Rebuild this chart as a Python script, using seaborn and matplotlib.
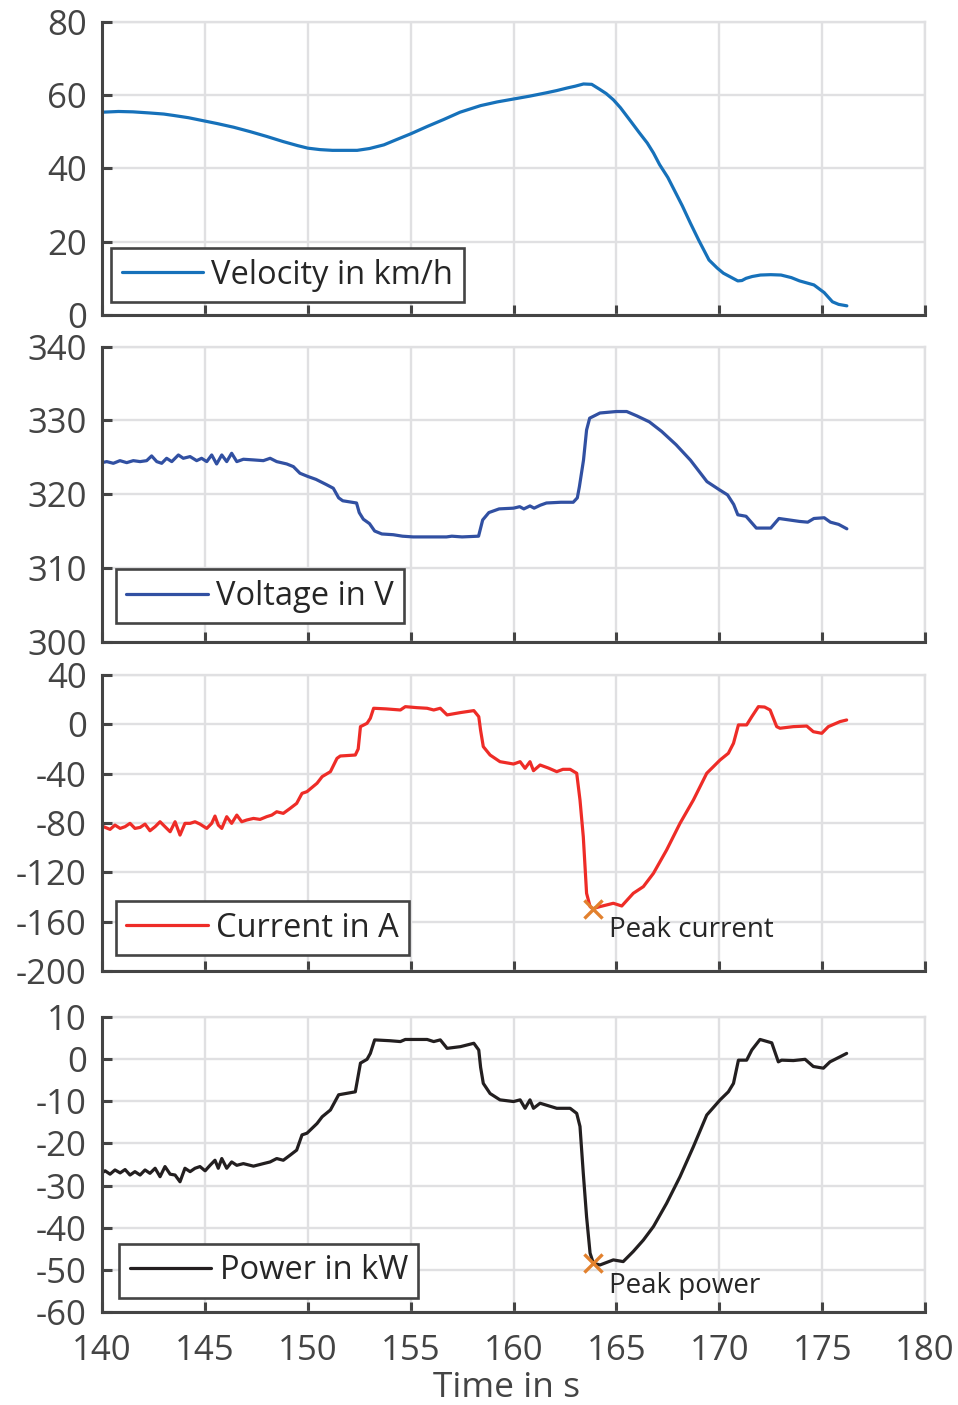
import matplotlib
matplotlib.use("Agg")
import matplotlib.pyplot as plt
import seaborn as sns
import pandas as pd

# ---------------- data ----------------
vel_t = [140.0, 140.8, 141.5, 142.3, 143.0, 143.5, 144.2, 144.9, 145.6, 146.4,
         147.2, 148.0, 148.8, 149.5, 150.0, 150.6, 151.2, 151.8, 152.4, 153.0,
         153.7, 154.3, 155.0, 155.8, 156.6, 157.4, 158.4, 159.2, 160.0, 160.8,
         161.6, 162.1, 162.6, 163.0, 163.4, 163.8, 164.2, 164.5, 164.85, 165.2,
         165.7, 166.1, 166.5, 166.8, 167.1, 167.5, 167.8, 168.2, 168.6, 169.0,
         169.5, 169.9, 170.2, 170.6, 170.9, 171.1, 171.3, 171.6, 172.0, 172.5,
         173.0, 173.5, 173.9, 174.6, 175.1, 175.5, 175.8, 176.2]
vel_v = [55.3, 55.5, 55.4, 55.1, 54.8, 54.4, 53.8, 53.0, 52.2, 51.2,
         50.0, 48.7, 47.3, 46.2, 45.5, 45.1, 44.9, 44.9, 44.9, 45.4,
         46.4, 47.8, 49.4, 51.4, 53.3, 55.3, 57.1, 58.1, 58.9, 59.7,
         60.6, 61.2, 61.9, 62.4, 63.0, 62.9, 61.5, 60.4, 58.7, 56.5,
         52.8, 49.8, 46.9, 44.2, 41.0, 37.5, 34.2, 29.8, 25.0, 20.4,
         15.0, 12.8, 11.4, 10.2, 9.3, 9.4, 10.0, 10.5, 10.9, 11.0,
         10.9, 10.2, 9.3, 8.2, 6.1, 3.6, 2.9, 2.5]

volt_t = [140.0, 140.23, 140.55, 140.87, 141.2, 141.52, 141.85, 142.17, 142.41, 142.66,
          142.9, 143.14, 143.39, 143.71, 143.95, 144.28, 144.6, 144.84, 145.09, 145.33,
          145.57, 145.82, 146.06, 146.3, 146.55, 146.87, 147.36, 147.84, 148.17, 148.49,
          148.98, 149.3, 149.62, 150.0, 150.4, 150.9, 151.24, 151.5, 151.7, 152.37,
          152.5, 152.7, 153.0, 153.25, 153.6, 154.15, 154.6, 155.12, 156.0, 156.74,
          157.0, 157.5, 158.3, 158.5, 158.8, 159.3, 160.0, 160.3, 160.5, 160.8,
          161.0, 161.3, 161.6, 162.3, 162.9, 163.1, 163.2, 163.4, 163.55, 163.7,
          164.2, 164.6, 165.0, 165.5, 166.0, 166.6, 167.2, 167.9, 168.6, 169.4,
          170.0, 170.4, 170.7, 170.9, 171.3, 171.8, 172.5, 172.9, 173.9, 174.3,
          174.6, 175.1, 175.4, 175.8, 176.2]
volt_v = [324.27, 324.41, 324.18, 324.54, 324.27, 324.54, 324.41, 324.54, 325.18, 324.41,
          324.18, 324.86, 324.41, 325.31, 324.86, 325.09, 324.54, 324.86, 324.41, 325.31,
          324.09, 325.31, 324.41, 325.54, 324.41, 324.73, 324.64, 324.54, 324.86, 324.41,
          324.09, 323.73, 322.83, 322.4, 322.0, 321.3, 320.8, 319.5, 319.1, 318.8,
          317.5, 316.6, 316.0, 315.0, 314.6, 314.5, 314.3, 314.2, 314.2, 314.2,
          314.3, 314.2, 314.3, 316.5, 317.5, 318.0, 318.1, 318.3, 318.0, 318.4,
          318.1, 318.5, 318.8, 318.9, 318.9, 319.5, 321.0, 324.6, 328.7, 330.3,
          331.0, 331.1, 331.2, 331.2, 330.6, 329.8, 328.5, 326.7, 324.6, 321.7,
          320.6, 319.9, 318.6, 317.2, 317.0, 315.4, 315.4, 316.7, 316.3, 316.2,
          316.7, 316.8, 316.2, 315.9, 315.3]

cur_t = [140.0, 140.39, 140.63, 140.88, 141.12, 141.36, 141.6, 141.85, 142.09, 142.33,
         142.58, 142.82, 143.06, 143.31, 143.55, 143.79, 144.03, 144.28, 144.52, 144.76,
         145.09, 145.33, 145.49, 145.65, 145.82, 146.06, 146.3, 146.55, 146.79, 147.03,
         147.36, 147.68, 148.0, 148.25, 148.49, 148.81, 149.14, 149.46, 149.72, 149.96,
         150.45, 150.7, 151.1, 151.42, 151.58, 152.31, 152.45, 152.56, 152.88, 153.04,
         153.2, 153.8, 154.5, 154.74, 155.3, 155.8, 156.12, 156.44, 156.77, 157.42,
         158.07, 158.31, 158.4, 158.53, 158.86, 159.34, 160.0, 160.32, 160.56, 160.8,
         160.97, 161.29, 161.7, 162.1, 162.4, 162.75, 163.07, 163.23, 163.39, 163.55,
         163.72, 163.85, 164.2, 164.85, 165.26, 165.82, 166.31, 166.8, 167.44, 168.09,
         168.74, 169.39, 170.04, 170.44, 170.69, 170.93, 171.33, 171.58, 171.9, 172.2,
         172.47, 172.79, 172.95, 173.6, 174.25, 174.57, 174.98, 175.3, 175.87, 176.19]
cur_v = [-82.5, -85.2, -81.7, -84.4, -83.0, -80.3, -84.4, -83.6, -80.9, -86.3,
         -83.0, -79.0, -83.0, -87.1, -79.0, -89.8, -80.3, -80.3, -79.0, -80.9,
         -84.4, -80.3, -74.4, -81.7, -84.4, -74.9, -80.3, -73.6, -79.0, -77.6,
         -76.3, -77.1, -74.9, -73.6, -70.9, -72.2, -68.2, -64.1, -56.0, -54.6,
         -47.8, -42.4, -38.4, -27.6, -25.7, -24.9, -20.0, -1.9, 0.8, 4.9,
         13.0, 12.5, 11.6, 14.3, 13.5, 13.0, 11.6, 13.0, 7.6, 9.5,
         11.1, 6.2, -5.0, -18.1, -24.9, -30.3, -32.2, -30.3, -35.7, -30.3,
         -37.6, -33.0, -35.5, -38.4, -36.5, -36.5, -39.7, -61.4, -91.1, -137.0,
         -147.8, -149.5, -147.8, -145.1, -147.3, -137.0, -131.6, -120.8, -101.9, -80.3,
         -61.4, -39.7, -28.9, -23.5, -15.4, -0.5, -0.5, 6.2, 14.3, 14.0,
         11.6, -1.9, -3.2, -1.9, -1.4, -6.0, -7.3, -1.9, 2.2, 3.5]

pow_t = [140.0, 140.15, 140.39, 140.63, 140.88, 141.12, 141.36, 141.6, 141.85, 142.09,
         142.33, 142.58, 142.82, 143.06, 143.31, 143.55, 143.79, 144.03, 144.28, 144.52,
         144.76, 145.01, 145.25, 145.49, 145.65, 145.82, 146.06, 146.3, 146.55, 146.87,
         147.36, 147.84, 148.17, 148.49, 148.81, 149.14, 149.46, 149.72, 149.96, 150.45,
         150.7, 151.1, 151.5, 152.31, 152.56, 152.88, 153.04, 153.25, 154.0, 154.5,
         154.74, 155.8, 156.12, 156.44, 156.77, 157.42, 158.07, 158.31, 158.4, 158.53,
         158.86, 159.34, 160.0, 160.32, 160.56, 160.8, 160.97, 161.29, 162.1, 162.75,
         163.07, 163.23, 163.39, 163.55, 163.72, 163.88, 164.2, 164.85, 165.33, 165.82,
         166.31, 166.8, 167.44, 168.09, 168.74, 169.39, 170.04, 170.44, 170.69, 170.93,
         171.33, 171.58, 171.98, 172.55, 172.87, 173.03, 173.6, 174.17, 174.57, 175.06,
         175.38, 175.87, 176.19]
pow_v = [-27.0, -26.5, -27.3, -26.3, -27.0, -26.2, -27.5, -26.7, -27.5, -26.3,
         -27.1, -25.9, -27.9, -25.5, -27.3, -27.5, -29.1, -25.9, -26.7, -25.9,
         -25.5, -26.5, -25.2, -24.0, -25.9, -23.6, -25.9, -24.4, -25.2, -24.8,
         -25.4, -24.8, -24.4, -23.6, -24.0, -22.8, -21.6, -18.0, -17.6, -15.3,
         -13.7, -12.1, -8.5, -7.8, -1.0, -0.1, 1.3, 4.5, 4.3, 4.1,
         4.6, 4.6, 4.1, 4.5, 2.5, 2.9, 3.7, 2.1, -2.0, -5.8,
         -8.2, -9.7, -10.1, -9.7, -11.7, -9.7, -11.7, -10.5, -11.7, -11.7,
         -12.9, -16.0, -27.1, -37.4, -46.0, -48.4, -48.8, -47.6, -48.0, -45.6,
         -42.9, -39.7, -34.2, -27.9, -20.8, -13.3, -9.7, -7.8, -5.8, -0.3,
         -0.3, 2.1, 4.6, 3.8, -0.7, -0.3, -0.4, -0.1, -1.8, -2.2,
         -0.7, 0.5, 1.3]

peak_current_t, peak_current_v = 163.85, -150.0
peak_power_t, peak_power_v = 163.85, -48.4

x_ticks = [140, 145, 150, 155, 160, 165, 170, 175, 180]
vel_ticks = [0, 20, 40, 60, 80]
volt_ticks = [300, 310, 320, 330, 340]
cur_ticks = [-200, -160, -120, -80, -40, 0, 40]
pow_ticks = [-60, -50, -40, -30, -20, -10, 0, 10]

# ---------------- style ----------------
sns.set_theme(style="white")
plt.rcParams["font.family"] = ["Open Sans", "DejaVu Sans"]
plt.rcParams["axes.unicode_minus"] = False

AX_COL = "#444444"
GRID_COL = "#E0E0E2"
TXT_COL = "#262626"

fig = plt.figure(figsize=(9.58, 14.05), dpi=100)

L, W = 0.1065, 0.8591
rects = [
    [L, 0.7758, W, 0.2088],
    [L, 0.5433, W, 0.2100],
    [L, 0.3089, W, 0.2107],
    [L, 0.0660, W, 0.2104],
]
series = [
    (vel_t, vel_v, "#1671BA", "Velocity in km/h", vel_ticks, (0.011, 0.044)),
    (volt_t, volt_v, "#3150A2", "Voltage in V", volt_ticks, (0.0166, 0.062)),
    (cur_t, cur_v, "#EE2C27", "Current in A", cur_ticks, (0.0166, 0.054)),
    (pow_t, pow_v, "#231F20", "Power in kW", pow_ticks, (0.021, 0.049)),
]

axes = []
for i, (rect, (t, v, col, lab, yt, leg_anchor)) in enumerate(zip(rects, series)):
    ax = fig.add_axes(rect)
    df = pd.DataFrame({"t": t, "v": v})
    sns.lineplot(data=df, x="t", y="v", ax=ax, color=col, lw=2.3,
                 label=lab, estimator=None, sort=False)
    ax.set_xlim(140, 180)
    ax.set_ylim(yt[0], yt[-1])
    ax.set_xticks(x_ticks)
    ax.set_yticks(yt)
    ax.set_axisbelow(True)
    ax.grid(True, color=GRID_COL, lw=1.7)
    for s in ["left", "bottom"]:
        ax.spines[s].set_color(AX_COL)
        ax.spines[s].set_linewidth(2.2)
    for s in ["top", "right"]:
        ax.spines[s].set_color(GRID_COL)
        ax.spines[s].set_linewidth(1.7)
        ax.spines[s].set_zorder(0)
    ax.tick_params(axis="both", direction="in", length=7, width=2.2,
                   color=AX_COL, labelcolor=AX_COL, labelsize=25,
                   left=True, bottom=True, top=False, right=False)
    ax.tick_params(axis="y", pad=11)
    ax.tick_params(axis="x", pad=16)
    ax.set_ylabel("")
    ax.set_xlabel("")
    if i < 3:
        ax.tick_params(axis="x", labelbottom=False)
    leg = ax.legend(loc="lower left", bbox_to_anchor=leg_anchor,
                    borderaxespad=0, frameon=True, fancybox=False,
                    fontsize=23.5, handlelength=2.5, handletextpad=0.25,
                    borderpad=0.32, framealpha=1)
    leg.get_frame().set_edgecolor(AX_COL)
    leg.get_frame().set_linewidth(1.9)
    for txt in leg.get_texts():
        txt.set_color(TXT_COL)
    for h in leg.get_lines():
        h.set_linewidth(2.3)
    axes.append(ax)

# peak markers
sns.scatterplot(x=[peak_current_t], y=[peak_current_v], ax=axes[2], marker="x",
                s=170, color="#E2812E", linewidth=2.4, zorder=5, legend=False)
axes[2].text(peak_current_t + 0.8, peak_current_v - 22.5, "Peak current",
             fontsize=20, color=TXT_COL, va="baseline", ha="left")
sns.scatterplot(x=[peak_power_t], y=[peak_power_v], ax=axes[3], marker="x",
                s=170, color="#E2812E", linewidth=2.4, zorder=5, legend=False)
axes[3].text(peak_power_t + 0.8, peak_power_v - 7.0, "Peak power",
             fontsize=20, color=TXT_COL, va="baseline", ha="left")
axes[2].set_ylabel("")
axes[3].set_ylabel("")

axes[3].set_xlabel("Time in s", fontsize=25.5, color=AX_COL, labelpad=1.5)
axes[3].xaxis.label.set_x(0.491)

fig.savefig("out.png", dpi=100)
